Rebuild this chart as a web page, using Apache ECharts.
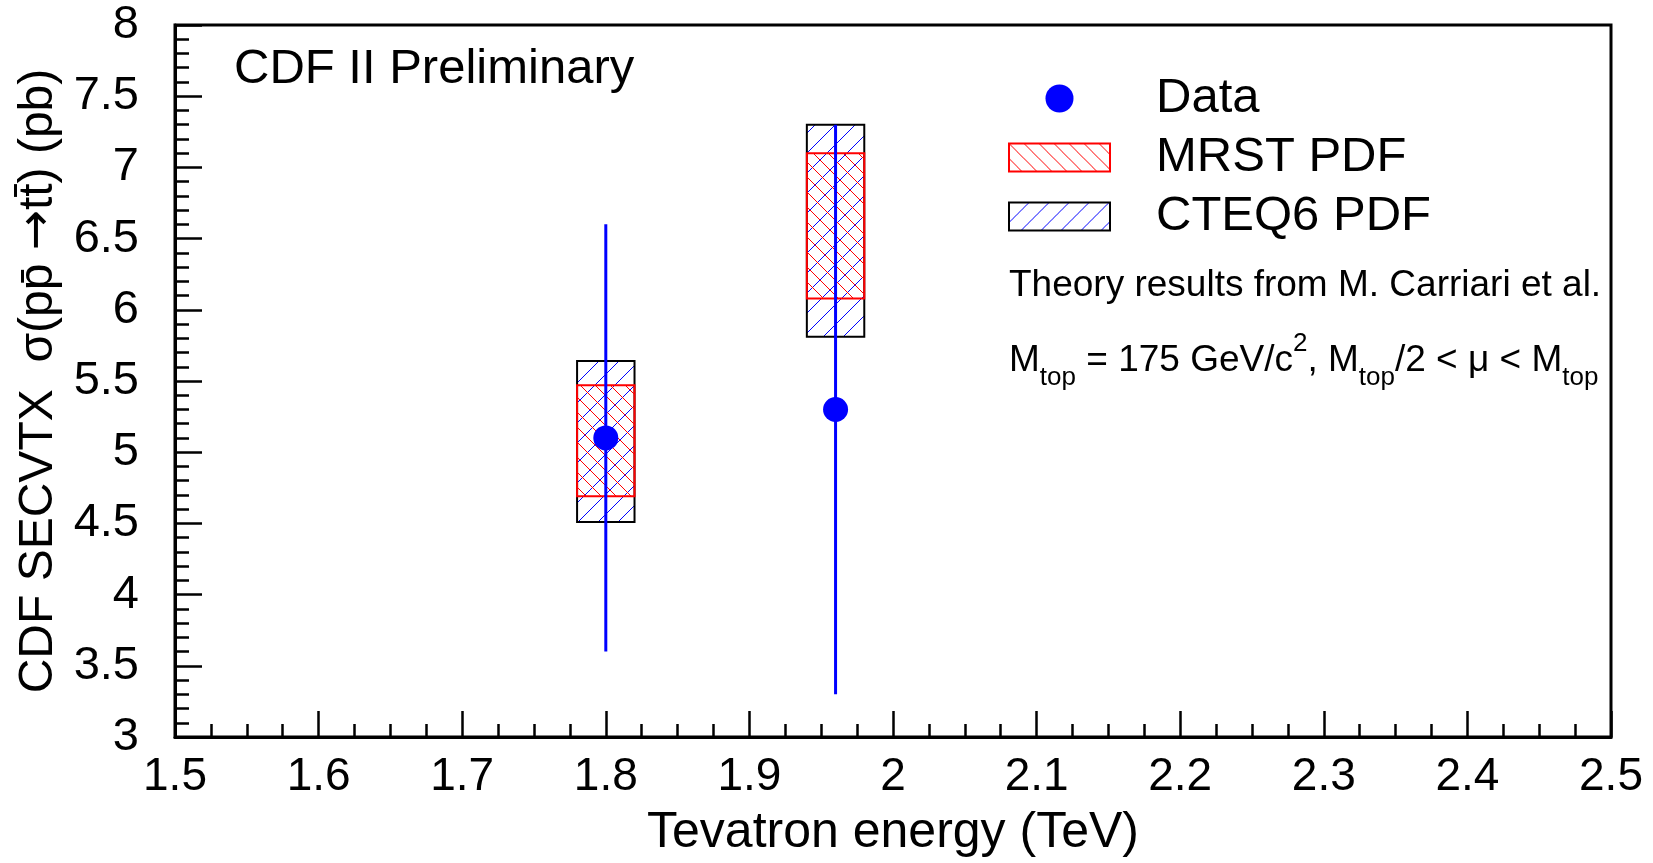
<!DOCTYPE html>
<html><head><meta charset="utf-8">
<script src="https://cdn.jsdelivr.net/npm/echarts@6/dist/echarts.min.js"></script>
<style>html,body{margin:0;padding:0;background:#fff}#c{width:1653px;height:863px}</style>
</head><body><div id="c"></div>
<script>
// ---- data ----
const energies   = [1.8, 1.96];
const dataValues = [5.1, 5.3];
const dataLow    = [3.6, 3.3];
const dataHigh   = [6.6, 7.3];
const mrstLow    = [4.69, 6.08];
const mrstHigh   = [5.47, 7.10];
const cteqLow    = [4.51, 5.81];
const cteqHigh   = [5.64, 7.30];
const seriesNames = ['Data', 'MRST PDF', 'CTEQ6 PDF'];

const FONT = '"Liberation Sans", Arial, Helvetica, sans-serif';
const BOX_HALF = 0.02;

function hatch(period, color, dir) {
  const c = document.createElement('canvas');
  c.width = period; c.height = period;
  const g = c.getContext('2d');
  g.strokeStyle = color; g.lineWidth = 1;
  for (let k = -1; k <= 1; k++) {
    g.beginPath();
    if (dir === '/') { g.moveTo(k * period, period); g.lineTo(k * period + period, 0); }
    else { g.moveTo(k * period, 0); g.lineTo(k * period + period, period); }
    g.stroke();
  }
  return { image: c, repeat: 'repeat' };
}
const mrstPattern = hatch(15, '#ff0000', '\\');
const cteqPattern = hatch(20, '#0000ff', '/');

function boxRender(fill, stroke) {
  return function (params, api) {
    const x = api.value(0), lo = api.value(1), hi = api.value(2);
    const p1 = api.coord([x - BOX_HALF, hi]);
    const p2 = api.coord([x + BOX_HALF, lo]);
    return { type: 'rect',
      shape: { x: p1[0], y: p1[1], width: p2[0] - p1[0], height: p2[1] - p1[1] },
      style: { fill: fill, stroke: stroke, lineWidth: 2 } };
  };
}

const chart = echarts.init(document.getElementById('c'), null, { renderer: 'canvas' });
chart.setOption({
  backgroundColor: '#fff',
  animation: false,
  grid: { left: 175, top: 25, right: 42, bottom: 120, show: true, borderColor: '#000', borderWidth: 3, backgroundColor: 'transparent' },
  xAxis: {
    type: 'value', min: 1.5, max: 2.5, interval: 0.1,
    name: 'Tevatron energy (TeV)', nameLocation: 'middle', nameGap: 71,
    nameTextStyle: { fontSize: 50, fontFamily: FONT, color: '#000' },
    axisLine: { lineStyle: { color: '#000', width: 3 } },
    axisTick: { inside: true, length: 26, lineStyle: { color: '#000', width: 2.5 } },
    minorTick: { show: true, splitNumber: 4, length: 13, lineStyle: { color: '#000', width: 2.5 } },
    axisLabel: { fontSize: 46, fontFamily: FONT, color: '#000', margin: 17 },
    splitLine: { show: false }
  },
  yAxis: {
    type: 'value', min: 3, max: 8, interval: 0.5,
    name: '{a|CDF SECVTX  \u03c3(pp\u0304 }{b|\u2192}{a|tt\u0304) (pb)}', nameLocation: 'middle', nameGap: 93,
    nameTextStyle: { fontSize: 48, fontFamily: FONT, color: '#000',
      rich: { a: { fontSize: 48, fontFamily: FONT, color: '#000' },
              b: { fontSize: 48, fontFamily: '"DejaVu Sans", sans-serif', color: '#000' } } },
    axisLine: { show: true, lineStyle: { color: '#000', width: 3 } },
    axisTick: { show: true, inside: true, length: 27, lineStyle: { color: '#000', width: 2.5 } },
    minorTick: { show: true, splitNumber: 5, length: 14, lineStyle: { color: '#000', width: 2.5 } },
    axisLabel: { fontSize: 47, fontFamily: FONT, color: '#000', margin: 36 },
    splitLine: { show: false }
  },
  legend: {
    orient: 'vertical', left: 1008, top: 74, padding: 0,
    itemWidth: 101, itemHeight: 28, itemGap: 10, selectedMode: false,
    textStyle: { fontSize: 49, fontFamily: FONT, color: '#000', lineHeight: 30, padding: [0, 0, 0, 41] },
    data: [
      { name: seriesNames[0], icon: 'circle', itemStyle: { color: '#0000ff', borderWidth: 0 } },
      { name: seriesNames[1], icon: 'rect', itemStyle: { color: mrstPattern, borderColor: '#ff0000', borderWidth: 2 } },
      { name: seriesNames[2], icon: 'rect', itemStyle: { color: cteqPattern, borderColor: '#000000', borderWidth: 2 } }
    ]
  },
  graphic: [
    { type: 'text', x: 234, y: 69, z: 10,
      style: { text: 'CDF II Preliminary', font: '49px ' + FONT, fill: '#000', align: 'left', verticalAlign: 'middle' } },
    { type: 'text', x: 1009, y: 286, z: 10,
      style: { text: 'Theory results from M. Carriari et al.', font: '37px ' + FONT, fill: '#000', align: 'left', verticalAlign: 'middle' } },
    { type: 'text', x: 1009, y: 361, z: 10,
      style: {
        text: '{m|M}{s|top}{m| = 175 GeV/c}{p|2}{m|, M}{s|top}{m|/2 < \u03bc < M}{s|top}',
        align: 'left', verticalAlign: 'middle',
        rich: {
          m: { fontSize: 37, fontFamily: FONT, color: '#000', lineHeight: 60, verticalAlign: 'middle' },
          s: { fontSize: 26, fontFamily: FONT, color: '#000', lineHeight: 16, verticalAlign: 'bottom' },
          p: { fontSize: 26, fontFamily: FONT, color: '#000', lineHeight: 34, verticalAlign: 'top' }
        }
      } }
  ],
  series: [
    { name: seriesNames[2], type: 'custom', z: 2, itemStyle: { color: cteqPattern, borderColor: '#000' },
      renderItem: boxRender(cteqPattern, '#000000'),
      encode: { x: 0, y: [1, 2] },
      data: energies.map((e, i) => [e, cteqLow[i], cteqHigh[i]]) },
    { name: seriesNames[1], type: 'custom', z: 3, itemStyle: { color: mrstPattern, borderColor: '#ff0000' },
      renderItem: boxRender(mrstPattern, '#ff0000'),
      encode: { x: 0, y: [1, 2] },
      data: energies.map((e, i) => [e, mrstLow[i], mrstHigh[i]]) },
    { name: 'Data error', type: 'custom', z: 4,
      renderItem: function (params, api) {
        const a = api.coord([api.value(0), api.value(1)]);
        const b = api.coord([api.value(0), api.value(2)]);
        return { type: 'line', shape: { x1: a[0], y1: a[1], x2: b[0], y2: b[1] },
          style: { stroke: '#0000ff', lineWidth: 3 } };
      },
      encode: { x: 0, y: [1, 2] },
      data: energies.map((e, i) => [e, dataLow[i], dataHigh[i]]) },
    { name: seriesNames[0], type: 'scatter', z: 5, symbol: 'circle', symbolSize: 25,
      itemStyle: { color: '#0000ff', opacity: 1 },
      data: energies.map((e, i) => [e, dataValues[i]]) }
  ]
});
</script></body></html>
